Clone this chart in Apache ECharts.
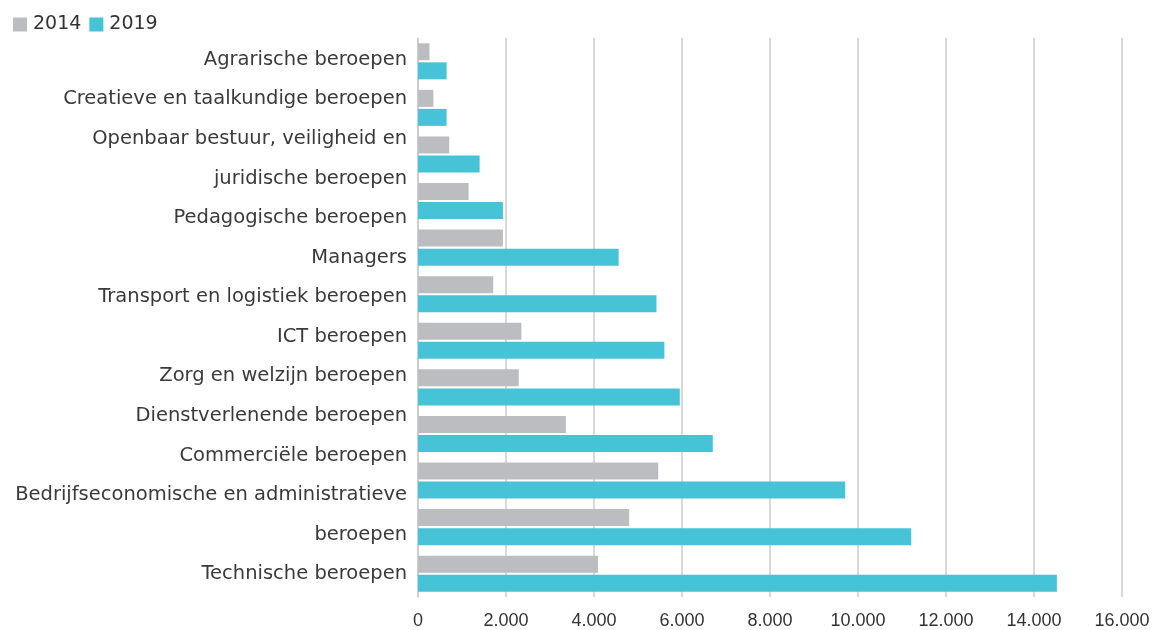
<!DOCTYPE html>
<html>
<head>
<meta charset="utf-8">
<script src="https://cdn.jsdelivr.net/npm/echarts@6/dist/echarts.min.js"></script>
<style>html,body{margin:0;padding:0;background:#fff}#c{width:1154px;height:630px}</style>
</head>
<body>
<div id="c"></div>
<script>
const categories = [
  "Agrarische beroepen",
  "Creatieve en taalkundige beroepen",
  "Openbaar bestuur, veiligheid en juridische beroepen",
  "Pedagogische beroepen",
  "Managers",
  "Transport en logistiek beroepen",
  "ICT beroepen",
  "Zorg en welzijn beroepen",
  "Dienstverlenende beroepen",
  "Commerciële beroepen",
  "Bedrijfseconomische en administratieve beroepen",
  "Technische beroepen"
];
const labelLines = [
  "Agrarische beroepen",
  "Creatieve en taalkundige beroepen",
  "Openbaar bestuur, veiligheid en",
  "juridische beroepen",
  "Pedagogische beroepen",
  "Managers",
  "Transport en logistiek beroepen",
  "ICT beroepen",
  "Zorg en welzijn beroepen",
  "Dienstverlenende beroepen",
  "Commerciële beroepen",
  "Bedrijfseconomische en administratieve",
  "beroepen",
  "Technische beroepen"
];
const values2014 = [260, 350, 710, 1150, 1930, 1710, 2350, 2290, 3360, 5460, 4800, 4090];
const values2019 = [650, 650, 1400, 1930, 4560, 5420, 5600, 5950, 6700, 9710, 11210, 14520];
const seriesNames = ["2014", "2019"];

const fmt = v => String(v).replace(/\B(?=(\d{3})+(?!\d))/g, ".");
const labelFont = "'DejaVu Sans', sans-serif";

const chart = echarts.init(document.getElementById('c'), null, {renderer: 'canvas'});
chart.setOption({
  animation: false,
  legend: {
    left: 8, top: 10, itemWidth: 14, itemHeight: 14, itemGap: 8,
    icon: 'rect',
    textStyle: {fontSize: 19, color: '#333', fontFamily: labelFont, padding: [0,0,0,1]},
    data: seriesNames
  },
  grid: [
    {left: 418, top: 38, width: 704, height: 563, containLabel: false},
    {left: 418, top: 40, width: 704, height: 554, containLabel: false}
  ],
  xAxis: [
    {
      type: 'value', gridIndex: 0, min: 0, max: 16000, interval: 2000,
      axisLine: {show: false}, axisTick: {show: false},
      splitLine: {show: true, lineStyle: {color: '#cccccc', width: 1.5}},
      axisLabel: {fontSize: 18, color: '#333', fontFamily: 'Liberation Sans, Arial, sans-serif', margin: 15, formatter: fmt}
    },
    {type: 'value', gridIndex: 1, min: 0, max: 1, show: false}
  ],
  yAxis: [
    {
      type: 'category', gridIndex: 0, inverse: true, data: categories,
      axisLine: {show: true, lineStyle: {color: '#cccccc', width: 1.5}},
      axisTick: {show: false}, axisLabel: {show: false}
    },
    {
      type: 'category', gridIndex: 1, inverse: true, data: labelLines,
      axisLine: {show: false}, axisTick: {show: false}, splitLine: {show: false},
      axisLabel: {fontSize: 19.5, color: '#3a3a3a', fontFamily: labelFont, margin: 11, interval: 0}
    }
  ],
  series: [
    {name: seriesNames[0], type: 'bar', xAxisIndex: 0, yAxisIndex: 0, data: values2014,
     barWidth: 17, barGap: '12%', itemStyle: {color: '#bcbdc1'}},
    {name: seriesNames[1], type: 'bar', xAxisIndex: 0, yAxisIndex: 0, data: values2019,
     barWidth: 17, barGap: '12%', itemStyle: {color: '#47c3d8'}}
  ]
});
</script>
</body>
</html>
